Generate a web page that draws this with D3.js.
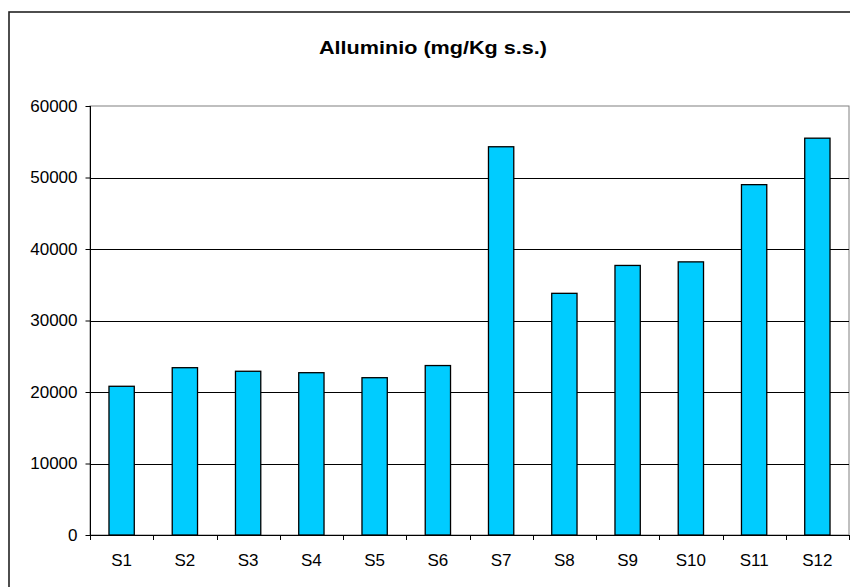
<!DOCTYPE html>
<html><head><meta charset="utf-8">
<script src="https://cdn.jsdelivr.net/npm/d3@7"></script>
<style>body{margin:0;background:#fff}svg{display:block}text{font-family:"Liberation Sans",Arial,sans-serif}</style>
</head><body><svg id="c" width="850" height="587"></svg>
<script>
const categories=["S1","S2","S3","S4","S5","S6","S7","S8","S9","S10","S11","S12"];
const values=[20800,23400,22900,22700,22000,23700,54300,33800,37700,38200,49000,55500];
const yTicks=[0,10000,20000,30000,40000,50000,60000];
const title="Alluminio (mg/Kg s.s.)";

const svg=d3.select("#c");
const L=90,R=849,T=106,B=535;
const FF="Liberation Sans, Arial, sans-serif";
// outer chart border
svg.append("rect").attr("x",9).attr("y",12).attr("width",860).attr("height",600)
  .attr("fill","none").attr("stroke","#222").attr("stroke-width",1.6);
svg.append("text").attr("x",433).attr("y",54).attr("text-anchor","middle")
  .attr("font-size",19).attr("font-weight","bold").attr("textLength",228).attr("lengthAdjust","spacingAndGlyphs").text(title);

const x=d3.scaleBand().domain(categories).range([L,R]);
const y=d3.scaleLinear().domain([0,60000]).range([B,T]);

// plot area border (grey)
svg.append("rect").attr("x",L).attr("y",T).attr("width",R-L).attr("height",B-T)
  .attr("fill","none").attr("stroke","#808080").attr("stroke-width",1);
// gridlines
svg.append("g").selectAll("line").data(yTicks.filter(d=>d>0&&d<60000)).join("line")
  .attr("x1",L).attr("x2",R).attr("y1",d=>Math.round(y(d))+0.5).attr("y2",d=>Math.round(y(d))+0.5)
  .attr("stroke","#000").attr("stroke-width",1);

// bars
const bw=x.bandwidth()*0.4;
svg.append("g").selectAll("rect").data(values).join("rect")
  .attr("x",(d,i)=>x(categories[i])+x.bandwidth()/2-bw/2)
  .attr("y",d=>y(d)).attr("width",bw).attr("height",d=>B-y(d))
  .attr("fill","#00CCFF").attr("stroke","#000").attr("stroke-width",1.3);

// axes
const ya=d3.axisLeft(y).tickValues(yTicks).tickSize(5).tickPadding(8).tickFormat(d3.format("d"));
const gy=svg.append("g").attr("transform",`translate(${L+0.5},0)`).call(ya);
gy.select(".domain").attr("stroke","#000").attr("d",`M0,${T}V${B}`);
gy.selectAll(".tick line").attr("stroke","#000");
gy.selectAll("text").attr("font-size",17).attr("fill","#000").style("font-family",FF);

const xa=d3.axisBottom(x).tickSize(0).tickPadding(18);
const gx=svg.append("g").attr("transform",`translate(0,${B+0.5})`).call(xa);
gx.select(".domain").attr("stroke","#000").attr("d",`M${L},0H${R}`);
gx.selectAll("text").attr("font-size",17).attr("fill","#000").style("font-family",FF);
// category separator ticks
const sep=categories.map(c=>x(c)).concat([R]);
svg.append("g").selectAll("line").data(sep).join("line")
  .attr("x1",d=>Math.round(d)+0.5).attr("x2",d=>Math.round(d)+0.5).attr("y1",B).attr("y2",B+5)
  .attr("stroke","#000");
</script></body></html>
